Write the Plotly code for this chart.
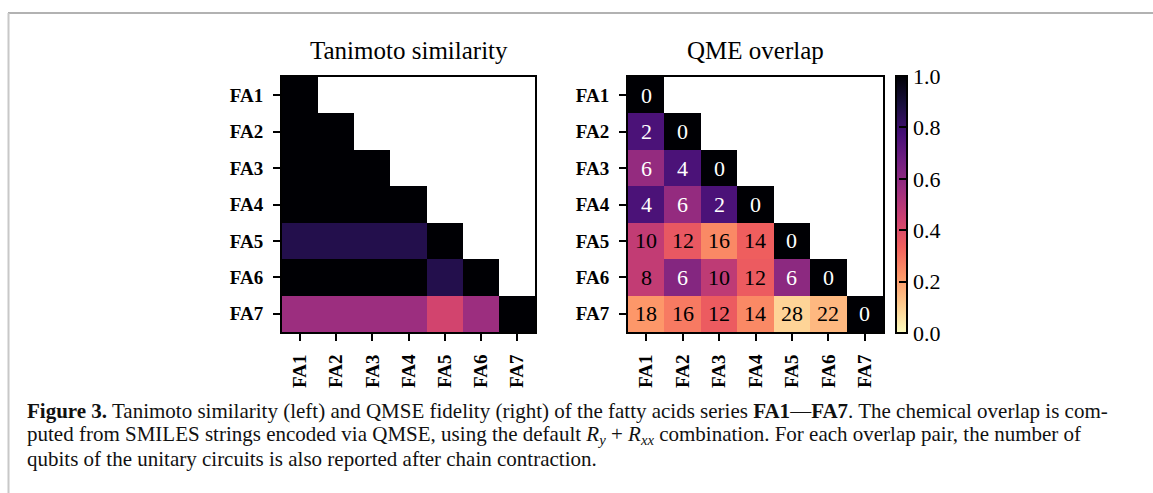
import numpy as np
import plotly.graph_objects as go

W, H = 1153, 493
labels = ["FA1", "FA2", "FA3", "FA4", "FA5", "FA6", "FA7"]

# Lower-triangular values (row i, columns 0..i)
tanimoto_rows = [
    [1.0],
    [1.0, 1.0],
    [1.0, 1.0, 1.0],
    [1.0, 1.0, 1.0, 1.0],
    [0.86, 0.86, 0.86, 0.86, 1.0],
    [1.0, 1.0, 1.0, 1.0, 0.86, 1.0],
    [0.56, 0.56, 0.56, 0.56, 0.43, 0.56, 1.0],
]
qme_rows = [
    [1.0],
    [0.76, 1.0],
    [0.58, 0.76, 1.0],
    [0.76, 0.58, 0.76, 1.0],
    [0.47, 0.36, 0.25, 0.34, 1.0],
    [0.47, 0.62, 0.48, 0.35, 0.60, 1.0],
    [0.22, 0.28, 0.35, 0.25, 0.09, 0.15, 1.0],
]
qubit_rows = [
    [0],
    [2, 0],
    [6, 4, 0],
    [4, 6, 2, 0],
    [10, 12, 16, 14, 0],
    [8, 6, 10, 12, 6, 0],
    [18, 16, 12, 14, 28, 22, 0],
]
cbar_ticks = [0, 0.2, 0.4, 0.6, 0.8, 1.0]
cbar_labels = ["0.0", "0.2", "0.4", "0.6", "0.8", "1.0"]


def to_matrix(rows):
    n = len(rows)
    m = np.full((n, n), np.nan)
    for i, r in enumerate(rows):
        m[i, : len(r)] = r
    return m


Zt = to_matrix(tanimoto_rows)
Zq = to_matrix(qme_rows)

SERIF = "Liberation Serif"

fig = go.Figure()
fig.add_trace(go.Heatmap(z=Zt, x=labels, y=labels, colorscale="Magma", reversescale=True,
                         zmin=0, zmax=1, showscale=False, xaxis="x", yaxis="y",
                         hoverongaps=False))
fig.add_trace(go.Heatmap(z=Zq, x=labels, y=labels, colorscale="Magma", reversescale=True,
                         zmin=0, zmax=1, xaxis="x2", yaxis="y2", hoverongaps=False,
                         colorbar=dict(
                             x=896 / W, xanchor="left", xpad=0,
                             y=1 - 204.5 / H, yanchor="middle", ypad=0,
                             len=257, lenmode="pixels", thickness=11,
                             outlinecolor="black", outlinewidth=2,
                             tickvals=cbar_ticks, ticktext=cbar_labels,
                             ticks="inside", ticklen=9, tickwidth=2, tickcolor="black",
                             tickfont=dict(family="Liberation Serif, Times New Roman, serif",
                                           size=22, color="black"),
                         )))

# cell numbers as data-anchored annotations on the right heatmap
for i, r in enumerate(qubit_rows):
    for j, v in enumerate(r):
        fig.add_annotation(x=labels[j], y=labels[i], xref="x2", yref="y2", text=str(v),
                           showarrow=False, xanchor="center", yanchor="middle",
                           font=dict(family=SERIF, size=22,
                                     color="white" if qme_rows[i][j] > 0.5 else "black"))

ydom = [1 - 332 / H, 1 - 77 / H]
axis_common = dict(showline=True, mirror=True, linecolor="black", linewidth=2,
                   ticks="outside", ticklen=7, tickwidth=2, tickcolor="black",
                   showgrid=False, zeroline=False, type="category",
                   ticklabelstandoff=6,
                   tickfont=dict(family=SERIF, size=19, color="black"))
bold = [f"<b>{l}</b>" for l in labels]
fig.update_layout(
    width=W, height=H, margin=dict(l=0, r=0, t=0, b=0),
    paper_bgcolor="white", plot_bgcolor="white", showlegend=False,
    font=dict(family=SERIF),
    xaxis=dict(domain=[282 / W, 535 / W], anchor="y", tickangle=-90,
               tickvals=labels, ticktext=bold, **axis_common),
    yaxis=dict(domain=ydom, anchor="x", autorange="reversed",
               tickvals=labels, ticktext=bold, **axis_common),
    xaxis2=dict(domain=[628 / W, 883 / W], anchor="y2", tickangle=-90,
                tickvals=labels, ticktext=bold, **axis_common),
    yaxis2=dict(domain=ydom, anchor="x2", autorange="reversed",
                tickvals=labels, ticktext=bold, **axis_common),
)

# titles
for xc, t in [((282 + 535) / 2, "Tanimoto similarity"), ((628 + 883) / 2, "QME overlap")]:
    fig.add_annotation(x=xc / W, y=1 - 50 / H, xref="paper", yref="paper", text=t,
                       showarrow=False, xanchor="center", yanchor="middle",
                       font=dict(family=SERIF, size=25, color="black"))

# caption
caption_lines = [
    "<b>Figure 3.</b> Tanimoto similarity (left) and QMSE fidelity (right) of the fatty acids series <b>FA1</b>\u2014<b>FA7</b>. The chemical overlap is com-",
    "puted from SMILES strings encoded via QMSE, using the default <i>R<sub>y</sub></i> + <i>R<sub>xx</sub></i> combination. For each overlap pair, the number of",
    "qubits of the unitary circuits is also reported after chain contraction.",
]
for k, line in enumerate(caption_lines):
    fig.add_annotation(x=25 / W, y=1 - (411 + 24 * k) / H, xref="paper", yref="paper",
                       text=line, showarrow=False, xanchor="left", yanchor="middle",
                       align="left", font=dict(family=SERIF, size=21, color="#111111"))

# page frame lines
fig.add_shape(type="line", xref="paper", yref="paper", x0=8 / W, x1=1, y0=1 - 13 / H, y1=1 - 13 / H,
              line=dict(color="#999999", width=1.5))
fig.add_shape(type="line", xref="paper", yref="paper", x0=8.5 / W, x1=8.5 / W, y0=0, y1=1 - 13 / H,
              line=dict(color="#c8c8c8", width=2))

fig.write_html("out.html")
